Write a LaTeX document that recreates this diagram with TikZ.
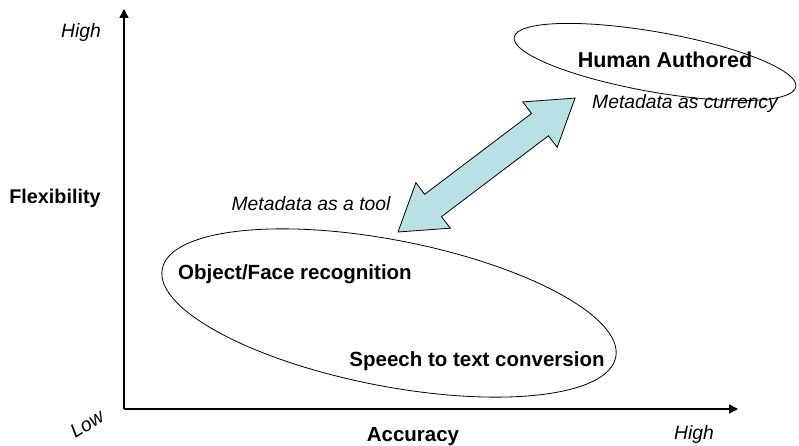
\documentclass[tikz,border=0pt]{standalone}
\usepackage{fontspec}
\setmainfont{Liberation Sans}
\usetikzlibrary{arrows.meta,shapes.geometric}
\definecolor{arrowblue}{RGB}{185,224,228}
\tikzset{
  boldlbl/.style={font=\fontsize{20.5}{24}\selectfont\bfseries, inner sep=0pt, anchor=center},
  itallbl/.style={font=\fontsize{19.3}{22}\selectfont\itshape, inner sep=0pt, anchor=center},
  axis/.style={line width=1.6pt, -{Triangle[length=9pt,width=9pt]}},
  oval/.style={ellipse, draw, line width=0.8pt, inner sep=0pt},
}
\begin{document}
\begin{tikzpicture}[x=1pt,y=1pt]
\useasboundingbox (0,0) rectangle (799,446);
% axes
\coordinate (O) at (124,37);
\coordinate (ytip) at (124,437);
\coordinate (xtip) at (738,37);
\draw[axis] (O) -- (ytip);
\draw[axis] (O) -- (xtip);
% ellipses
\node[oval, minimum width=462pt, minimum height=146pt, rotate=-11] (big) at (389,133) {};
\node[oval, minimum width=286pt, minimum height=60pt, rotate=-10] (small) at (655,384) {};
% double arrow
\coordinate (A1) at (398,214);
\begin{scope}[shift={(A1)}, rotate=37.1]
\draw[fill=arrowblue, line width=0.8pt, line join=miter]
  (0,0) -- (44,28.5) -- (44,14) -- (178,14) -- (178,28.5) -- (222,0)
  -- (178,-28.5) -- (178,-14) -- (44,-14) -- (44,-28.5) -- cycle;
\end{scope}
% labels
\node[itallbl] (yhigh) at (81,413) {High};
\node[boldlbl, font=\fontsize{19.8}{24}\selectfont\bfseries] (ylab) at (55,248) {Flexibility};
\node[itallbl, rotate=32] (low) at (87,22) {Low};
\node[boldlbl] (xlab) at (413,9) {Accuracy};
\node[itallbl] (xhigh) at (694,11) {High};
\node[boldlbl, font=\fontsize{21.5}{24}\selectfont\bfseries] (human) at (665,386) {Human Authored};
\node[itallbl] (cur) at (685,342) {Metadata as currency};
\node[itallbl] (tool) at (311,242) {Metadata as a tool};
\node[boldlbl] (obj) at (295,172) {Object/Face recognition};
\node[boldlbl] (speech) at (477,85) {Speech to text conversion};
\end{tikzpicture}
\end{document}
